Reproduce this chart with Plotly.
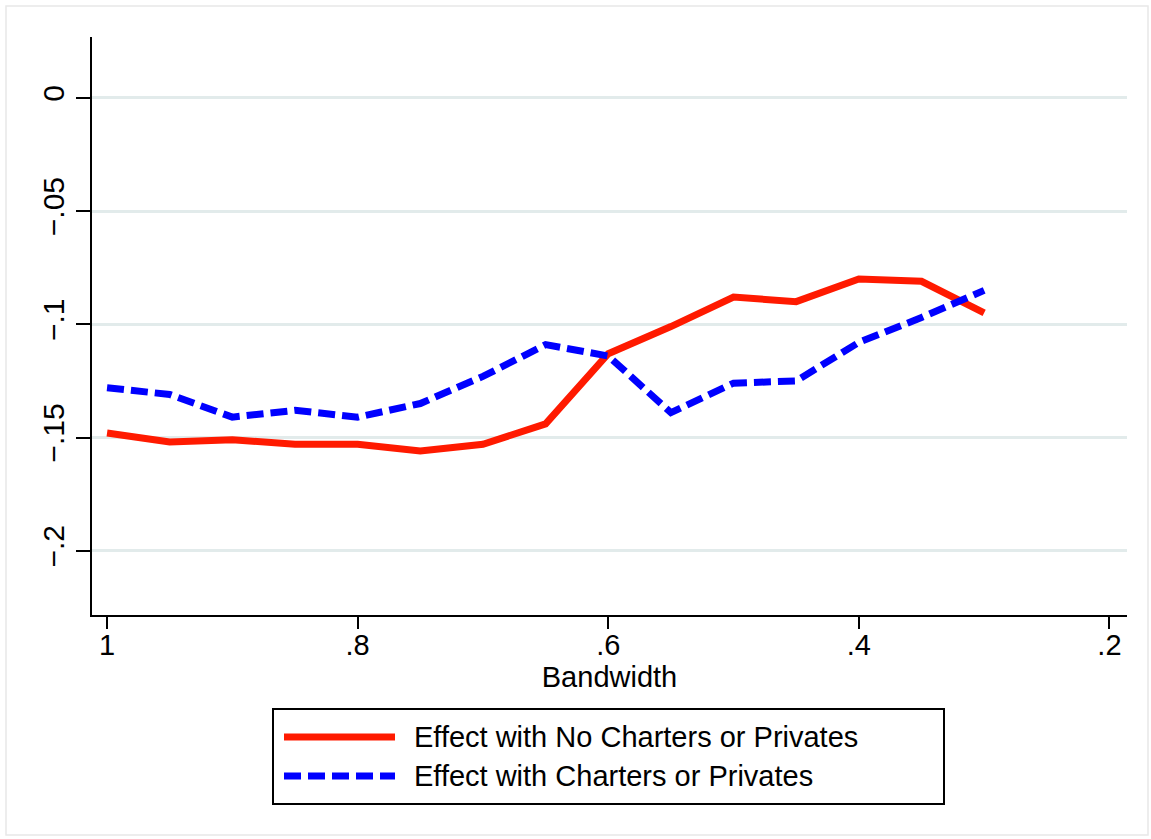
import plotly.graph_objects as go

# Regression-discontinuity estimates across bandwidths
bandwidth = [1.0, 0.95, 0.9, 0.85, 0.8, 0.75, 0.7, 0.65, 0.6, 0.55, 0.5, 0.45, 0.4, 0.35, 0.3]
effect_no_charters = [-0.148, -0.152, -0.151, -0.153, -0.153, -0.156, -0.153, -0.144,
                      -0.113, -0.101, -0.088, -0.090, -0.080, -0.081, -0.095]
effect_charters = [-0.128, -0.131, -0.141, -0.138, -0.141, -0.135, -0.123, -0.109,
                   -0.114, -0.139, -0.126, -0.125, -0.108, -0.097, -0.085]

series_names = ["Effect with No Charters or Privates", "Effect with Charters or Privates"]

y_ticks = [0, -0.05, -0.1, -0.15, -0.2]
y_tick_text = ["0", "\u2212.05", "\u2212.1", "\u2212.15", "\u2212.2"]
x_ticks = [1, 0.8, 0.6, 0.4, 0.2]
x_tick_text = ["1", ".8", ".6", ".4", ".2"]

RED = "#ff1a00"
BLUE = "#0000ff"
DASH = "17px,7px"
FONT = "Liberation Sans, Arial, sans-serif"

W, H = 1151, 839
ML, MR, MT, MB = 92, 24, 37, 224
PW, PH = W - ML - MR, H - MT - MB


def px(x):
    return (x - ML) / PW


def py(y):
    return (H - MB - y) / PH


fig = go.Figure()
fig.add_trace(go.Scatter(x=bandwidth, y=effect_no_charters, mode="lines",
                         line=dict(color=RED, width=7), name=series_names[0],
                         showlegend=False))
fig.add_trace(go.Scatter(x=bandwidth, y=effect_charters, mode="lines",
                         line=dict(color=BLUE, width=7, dash=DASH), name=series_names[1],
                         showlegend=False))

fig.update_layout(
    width=W, height=H,
    margin=dict(l=ML, r=MR, t=MT, b=MB),
    paper_bgcolor="white", plot_bgcolor="white",
    font=dict(family=FONT, color="black"),
)

fig.update_xaxes(
    range=[1.012, 0.186],
    tickvals=x_ticks, ticktext=x_tick_text,
    showgrid=False, zeroline=False,
    showline=True, linecolor="black", linewidth=2,
    ticks="outside", ticklen=12, tickwidth=2, tickcolor="black",
    ticklabelstandoff=-9,
    tickfont=dict(size=29),
    title=dict(text="Bandwidth", font=dict(size=29), standoff=2),
)
fig.update_yaxes(
    range=[-0.2284, 0.0269],
    tickvals=y_ticks, ticktext=y_tick_text, tickangle=-90,
    showgrid=True, gridcolor="#e2ebeb", gridwidth=3, zeroline=False,
    showline=True, linecolor="black", linewidth=2,
    ticks="outside", ticklen=14, tickwidth=2, tickcolor="black",
    tickfont=dict(size=30),
)

shapes = []
# faint outer frame of the graph region
shapes.append(dict(type="rect", xref="paper", yref="paper",
                   x0=px(6), x1=px(1148), y0=py(835), y1=py(6),
                   line=dict(color="#e8e8e8", width=1.5), layer="below"))
# legend box
shapes.append(dict(type="rect", xref="paper", yref="paper",
                   x0=px(273), x1=px(944), y0=py(804), y1=py(709),
                   line=dict(color="black", width=2), fillcolor="white", layer="below"))
rows_y = [737, 776]
styles = [dict(color=RED, width=7), dict(color=BLUE, width=7, dash=DASH)]
annotations = []
for name, ry, st in zip(series_names, rows_y, styles):
    shapes.append(dict(type="line", xref="paper", yref="paper",
                       x0=px(284), x1=px(395), y0=py(ry), y1=py(ry), line=st))
    annotations.append(dict(xref="paper", yref="paper", x=px(412), y=py(ry),
                            text=name, showarrow=False, xanchor="left", yanchor="middle",
                            font=dict(size=29, family=FONT, color="black")))

fig.update_layout(shapes=shapes, annotations=annotations)

fig.write_html("out.html")
